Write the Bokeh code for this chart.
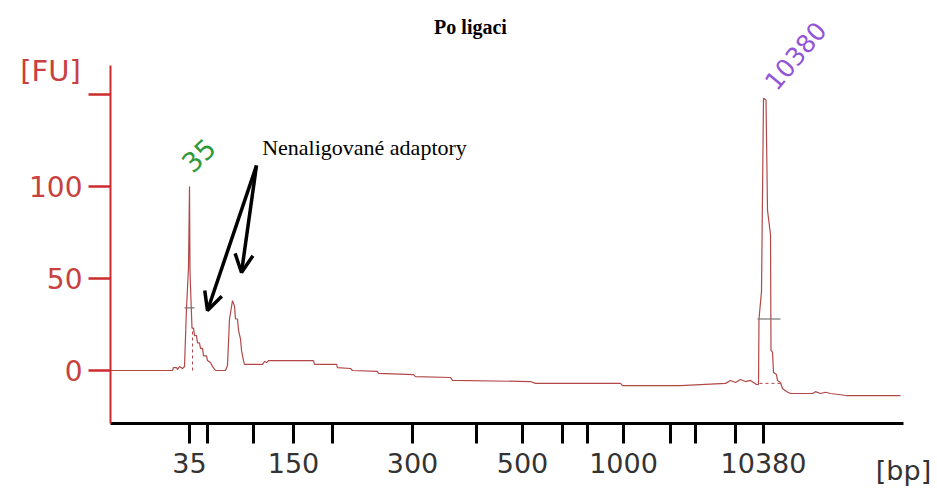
from bokeh.plotting import figure
from bokeh.models import (Range1d, FixedTicker, CustomJSTickFormatter, Label, Arrow, OpenHead)
from bokeh.embed import file_html
from bokeh.resources import INLINE

# ---- data (migration position in arbitrary time units, fluorescence in FU) ----
trace_t = [0.0, 6.2, 6.3, 6.6, 6.7, 6.9, 7.2, 7.4, 7.6, 7.8, 7.9, 7.95, 8.05, 8.15, 8.3, 8.4,
           8.6, 8.7, 8.9, 9.0, 9.2, 9.3, 9.6, 9.7, 10.0, 10.2, 10.5, 11.5, 11.7, 11.9, 12.2,
           12.4, 12.5, 12.7, 12.8, 13.0, 13.1, 13.3, 13.4, 15.2, 15.4, 15.6, 15.8, 20.3, 20.4,
           22.6, 22.7, 24.0, 24.2, 26.7, 26.8, 30.3, 30.5, 34.0, 34.2, 42.0, 42.5, 51.0, 51.2,
           57.0, 61.5, 62.0, 62.5, 63.0, 63.5, 64.0, 64.6, 64.8, 64.85, 65.1, 65.3, 65.55, 65.7,
           66.0, 66.05, 66.2, 66.3, 66.6, 66.7, 67.0, 67.2, 67.6, 68.0, 70.2, 70.5, 71.0, 71.5,
           72.0, 73.6, 79.0]
trace_fu = [0, 0, 1.6, 1.6, 0.5, 2.2, 1.1, 2.2, 34, 56, 100, 54, 38, 23, 23, 19,
            19, 15, 15, 12, 12, 8, 8, 5.4, 4.3, 2.2, 0, 0, 2.7, 28, 38,
            35, 28, 28, 22, 17, 11, 5.4, 3.3, 3.3, 4.9, 4.3, 5.4, 5.4, 3.3,
            3.3, 1.6, 1.1, 0, -0.5, -1.6, -2.2, -3.3, -3.8, -5.4, -6, -7, -7, -8.2,
            -8.2, -7, -5.4, -6.5, -4.9, -6, -5.4, -7.6, -7.6, 28, 43, 148, 147, 87,
            74, 11, 10, -1.1, -2.2, -5.4, -6.5, -9.8, -11.4, -12.5, -12.5, -11.5, -12.5, -11.8,
            -12.5, -13.6, -13.6]

# peak markers
marker_t0 = [7.4, 64.7]
marker_t1 = [8.4, 67.0]
marker_fu = [34, 28]
base_t0 = [8.2, 64.9]
base_t1 = [8.2, 67.2]
base_fu0 = [0, -7]
base_fu1 = [23, -7]

# x axis ticks and labels (bp)
x_tick_pos = [7.9, 9.7, 14.3, 18.3, 22.2, 30.2, 36.6, 41.2, 45.2, 47.7, 51.3, 56.0, 58.5, 62.5, 65.3]
x_tick_lab = ["35", "", "", "150", "", "300", "", "500", "", "", "1000", "", "", "", "10380"]
y_tick_pos = [0, 50, 100, 150]
y_tick_lab = ["0", "50", "100", ""]

peak_labels = ["35", "10380"]
peak_label_t = [8.8, 68.5]
peak_label_fu = [117, 171]

# axis extents
x_axis_start, x_axis_end = 0.0, 79.3
y_axis_start, y_axis_end = -28.8, 165.8

RED = "#cc2b2b"
RED_TXT = "#c84040"
TRACE = "#b24848"

p = figure(width=937, height=493, output_backend="svg", toolbar_location=None,
           x_range=Range1d(-11.0, 82.7), y_range=Range1d(-66.85, 201.1),
           min_border_left=0, min_border_right=0, min_border_top=0, min_border_bottom=0)
p.outline_line_color = None
p.xgrid.visible = False
p.ygrid.visible = False
p.background_fill_color = "white"
p.border_fill_color = "white"

p.line(trace_t, trace_fu, line_color=TRACE, line_width=1.2)
p.segment(x0=marker_t0, x1=marker_t1, y0=marker_fu, y1=marker_fu, line_color="#777777", line_width=1.2)
p.segment(x0=base_t0, x1=base_t1, y0=base_fu0, y1=base_fu1, line_color=TRACE, line_width=1, line_dash="3 3")

# axes
xa = p.xaxis[0]
xa.fixed_location = y_axis_start
xa.bounds = (x_axis_start, x_axis_end)
xa.ticker = FixedTicker(ticks=x_tick_pos)
xa.formatter = CustomJSTickFormatter(args=dict(pos=x_tick_pos, lab=x_tick_lab), code="""
const i = pos.findIndex(v => Math.abs(v - tick) < 1e-6);
return i >= 0 ? lab[i] : '';
""")
xa.axis_line_color = "black"
xa.axis_line_width = 3
xa.major_tick_line_color = "black"
xa.major_tick_line_width = 3
xa.major_tick_out = 20
xa.major_tick_in = 0
xa.minor_tick_line_color = None
xa.major_label_text_font = "DejaVu Sans"
xa.major_label_text_font_size = "27px"
xa.major_label_text_color = "#333333"
xa.major_label_standoff = 10

ya = p.yaxis[0]
ya.fixed_location = x_axis_start
ya.bounds = (y_axis_start, y_axis_end)
ya.ticker = FixedTicker(ticks=y_tick_pos)
ya.formatter = CustomJSTickFormatter(args=dict(pos=y_tick_pos, lab=y_tick_lab), code="""
const i = pos.findIndex(v => Math.abs(v - tick) < 1e-6);
return i >= 0 ? lab[i] : '';
""")
ya.axis_line_color = RED
ya.axis_line_width = 2
ya.major_tick_line_color = RED
ya.major_tick_line_width = 2.5
ya.major_tick_out = 22
ya.major_tick_in = 0
ya.minor_tick_line_color = None
ya.major_label_text_font = "DejaVu Sans"
ya.major_label_text_font_size = "28px"
ya.major_label_text_color = RED_TXT
ya.major_label_standoff = 6

# texts
p.add_layout(Label(x=36.0, y=186.5, text="Po ligaci", text_font="Liberation Serif",
                   text_font_style="bold", text_font_size="20px", text_align="center",
                   text_baseline="middle", text_color="black"))
p.add_layout(Label(x=-6.0, y=163, text="[FU]", text_font="DejaVu Sans", text_font_size="29px",
                   text_align="center", text_baseline="middle", text_color=RED_TXT))
p.add_layout(Label(x=79.3, y=-54.3, text="[bp]", text_font="DejaVu Sans", text_font_size="27px",
                   text_align="center", text_baseline="middle", text_color="#333333"))
p.add_layout(Label(x=25.4, y=121, text="Nenaligované adaptory", text_font="Liberation Serif",
                   text_font_size="22px", text_align="center", text_baseline="middle",
                   text_color="black"))
p.add_layout(Label(x=peak_label_t[0], y=peak_label_fu[0], text=peak_labels[0], angle=0.75,
                   text_font="DejaVu Sans", text_font_size="27px", text_align="center",
                   text_baseline="middle", text_color="#2f9a3c"))
p.add_layout(Label(x=peak_label_t[1], y=peak_label_fu[1], text=peak_labels[1], angle=0.87,
                   text_font="DejaVu Sans", text_font_size="25px", text_align="center",
                   text_baseline="middle", text_color="#9255d8"))

# arrows
p.add_layout(Arrow(x_start=14.6, y_start=111.4, x_end=9.7, y_end=32.6, line_width=3.5,
                   line_color="black", end=OpenHead(size=18, line_width=3.5, line_color="black")))
p.add_layout(Arrow(x_start=14.6, y_start=111.4, x_end=13.1, y_end=53.3, line_width=3.5,
                   line_color="black", end=OpenHead(size=18, line_width=3.5, line_color="black")))

open("out.html", "w").write(file_html(p, INLINE))
